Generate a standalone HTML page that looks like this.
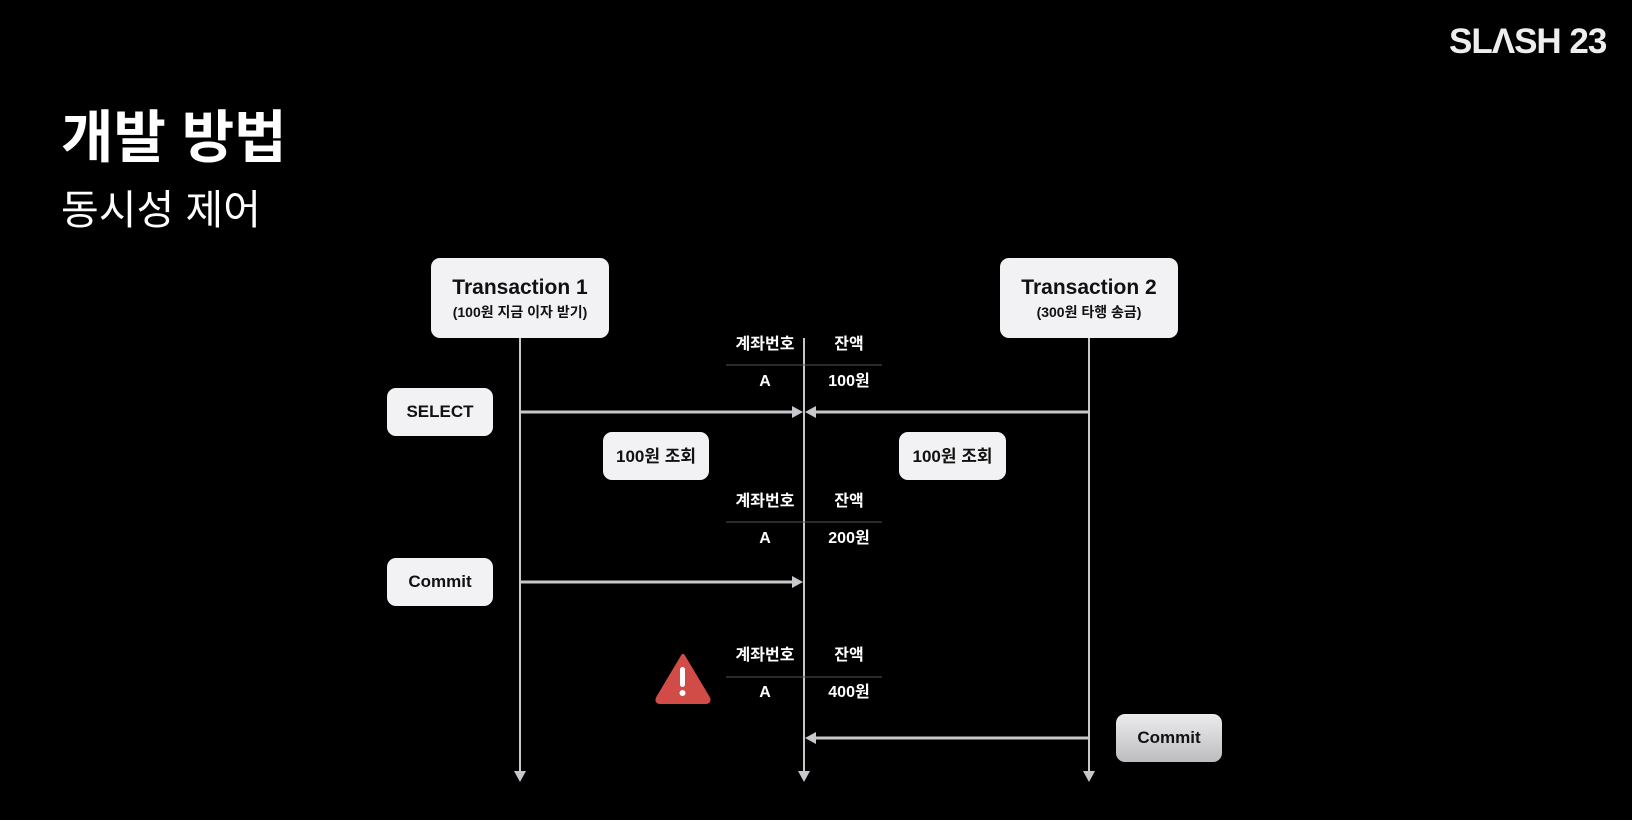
<!DOCTYPE html>
<html><head><meta charset="utf-8"><style>
html,body{margin:0;padding:0;background:#000;}
body{width:1632px;height:820px;position:relative;overflow:hidden;font-family:"Liberation Sans","Noto Sans CJK KR",sans-serif;color:#fff;}
.abs{position:absolute;}
.box{position:absolute;background:#f2f2f4;border-radius:9px;color:#111;display:flex;flex-direction:column;align-items:center;justify-content:center;font-weight:bold;line-height:1.15;}
.t{position:absolute;font-size:16px;font-weight:bold;color:#fff;text-align:center;width:80px;line-height:20px;height:20px;}
</style></head><body>
<div class="abs" style="left:1449px;top:22px;font-size:35px;font-weight:bold;letter-spacing:-1px;color:#eee;">SLΛSH&nbsp;23</div>
<div class="abs" style="left:61px;top:92px;font-size:57px;font-weight:bold;">개발 방법</div>
<div class="abs" style="left:61px;top:176px;font-size:41px;">동시성 제어</div>

<svg class="abs" style="left:0;top:0" width="1632" height="820">
<g stroke="#c8c8cc" stroke-width="2" fill="none">
<line x1="520" y1="338" x2="520" y2="772"/>
<line x1="804" y1="338" x2="804" y2="772"/>
<line x1="1089" y1="338" x2="1089" y2="772"/>
<line x1="520" y1="412" x2="794" y2="412" stroke-width="3"/>
<line x1="1089" y1="412" x2="814" y2="412" stroke-width="3"/>
<line x1="520" y1="582" x2="794" y2="582" stroke-width="3"/>
<line x1="1089" y1="738" x2="814" y2="738" stroke-width="3"/>
</g>
<g stroke="#555" stroke-width="1">
<line x1="726" y1="365" x2="882" y2="365"/>
<line x1="726" y1="522" x2="882" y2="522"/>
<line x1="726" y1="677" x2="882" y2="677"/>
</g>
<g fill="#c8c8cc">
<polygon points="803,412 792,406 792,418"/>
<polygon points="805,412 816,406 816,418"/>
<polygon points="803,582 792,576 792,588"/>
<polygon points="805,738 816,732 816,744"/>
<polygon points="520,782 514,771 526,771"/>
<polygon points="804,782 798,771 810,771"/>
<polygon points="1089,782 1083,771 1095,771"/>
</g>
<path d="M683,656 L708,698 Q710,702 705,702 L661,702 Q656,702 658,698 Z" fill="#d14b47" stroke="#d14b47" stroke-width="4" stroke-linejoin="round"/>
<rect x="680" y="667" width="5" height="20" rx="2.5" fill="#fff"/>
<circle cx="682.5" cy="693" r="3" fill="#fff"/>
</svg>

<div class="box" style="left:431px;top:258px;width:178px;height:80px;">
<div style="font-size:21px;">Transaction 1</div><div style="font-size:14px;margin-top:3px;">(100원 지금 이자 받기)</div></div>
<div class="box" style="left:1000px;top:258px;width:178px;height:80px;">
<div style="font-size:21px;">Transaction 2</div><div style="font-size:14px;margin-top:3px;">(300원 타행 송금)</div></div>
<div class="box" style="left:387px;top:388px;width:106px;height:48px;font-size:17px;">SELECT</div>
<div class="box" style="left:603px;top:432px;width:106px;height:48px;font-size:17px;padding-top:2px;box-sizing:border-box;">100원 조회</div>
<div class="box" style="left:899px;top:432px;width:107px;height:48px;font-size:17px;padding-top:2px;box-sizing:border-box;">100원 조회</div>
<div class="box" style="left:387px;top:558px;width:106px;height:48px;font-size:17px;">Commit</div>
<div class="box" style="left:1116px;top:714px;width:106px;height:48px;font-size:17px;background:linear-gradient(#ececee,#bdbdc0);">Commit</div>

<div class="t" style="left:725px;top:335px;">계좌번호</div><div class="t" style="left:809px;top:335px;">잔액</div>
<div class="t" style="left:725px;top:372px;">A</div><div class="t" style="left:809px;top:372px;">100원</div>
<div class="t" style="left:725px;top:492px;">계좌번호</div><div class="t" style="left:809px;top:492px;">잔액</div>
<div class="t" style="left:725px;top:529px;">A</div><div class="t" style="left:809px;top:529px;">200원</div>
<div class="t" style="left:725px;top:646px;">계좌번호</div><div class="t" style="left:809px;top:646px;">잔액</div>
<div class="t" style="left:725px;top:683px;">A</div><div class="t" style="left:809px;top:683px;">400원</div>
</body></html>
